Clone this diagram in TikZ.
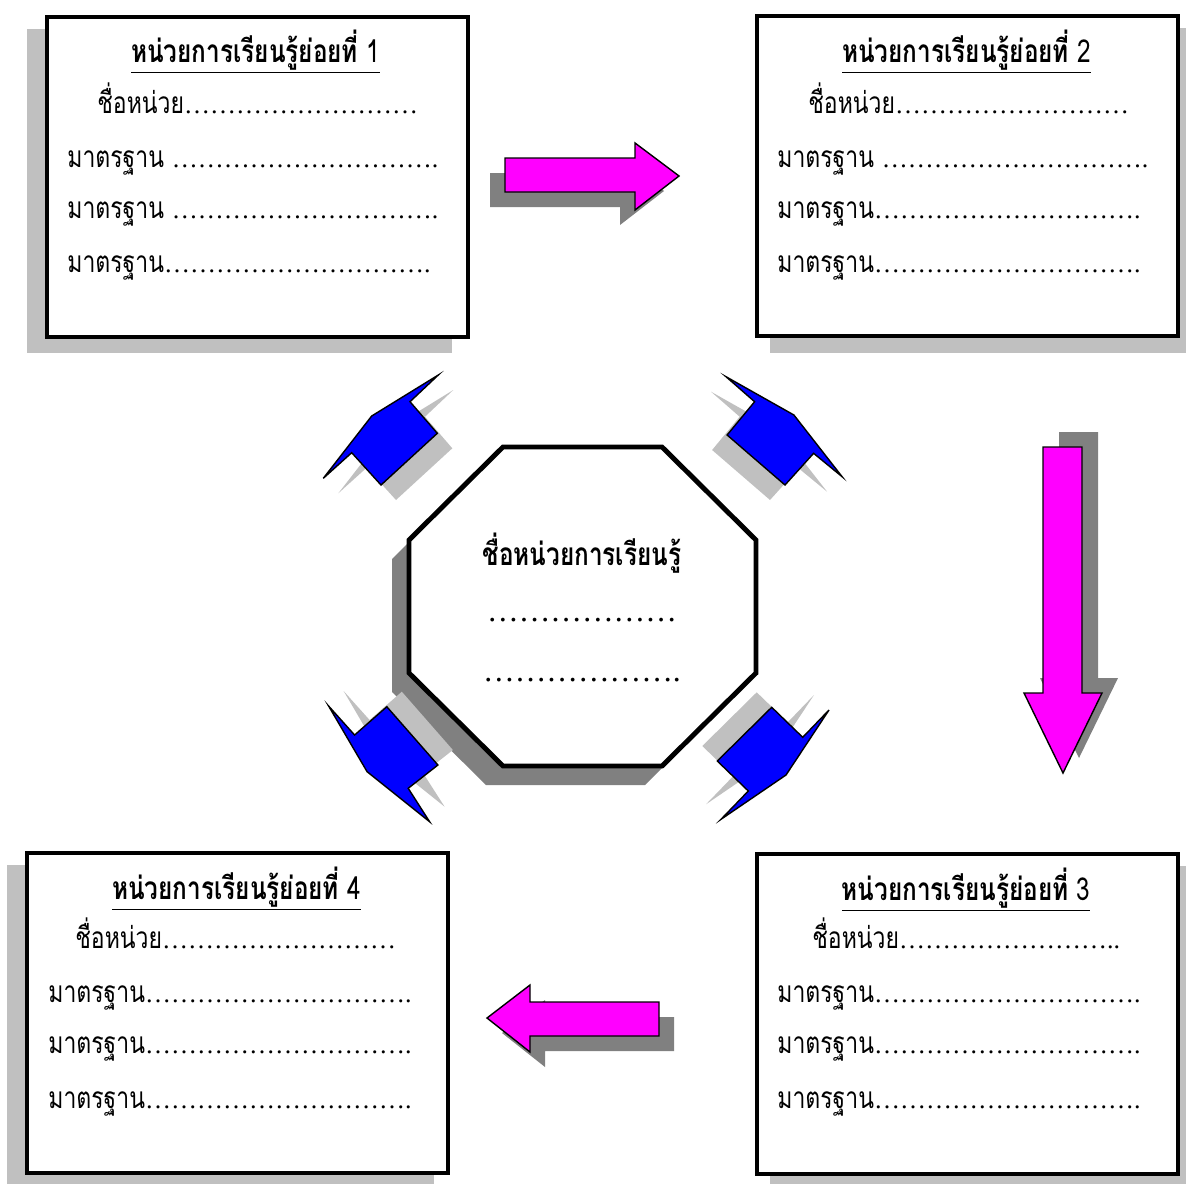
\documentclass[tikz,border=0pt]{standalone}
\usepackage{fontspec}
\newfontfamily\thaifont[Script=Thai, FakeStretch=0.77]{Loma}
\newfontfamily\dotsfamily{Liberation Serif}
\usetikzlibrary{positioning}
\definecolor{shadowlight}{HTML}{C0C0C0}
\definecolor{shadowdark}{HTML}{808080}
\definecolor{unitmagenta}{HTML}{FF00FF}
\definecolor{unitblue}{HTML}{0000FF}
\newcommand{\dotsfont}{\dotsfamily\fontsize{14.8}{16}\selectfont}
\newcommand{\bigdotsfont}{\dotsfamily\fontsize{18}{20}\selectfont}

\begin{document}
\begin{tikzpicture}[
  x=0.02cm, y=-0.02cm,
  every node/.style={inner sep=0pt, font=\thaifont\fontsize{17}{19}\selectfont},
  unitbox/.style={draw, line width=2.3pt, fill=white, minimum width=8.42cm, minimum height=6.4cm, anchor=north west},
  unittitle/.style={anchor=base, font=\thaifont\bfseries\fontsize{18}{20}\selectfont},
  unitline/.style={anchor=base west},
  boxshadow/.style={fill=shadowlight},
  pinkarrow/.style={draw, line width=0.8pt, fill=unitmagenta, line join=miter},
  bluearrow/.style={draw, line width=0.8pt, fill=unitblue, line join=miter}
  ]
	\useasboundingbox (0,0) rectangle (1186,1183);
	\clip (0,0) rectangle (1186,1183);

	% box shadows
	\fill[boxshadow] (27,29) rectangle (452,353);
	\fill[boxshadow] (770,28) rectangle (1197,353);
	\fill[boxshadow] (770,866) rectangle (1196,1189);
	\fill[boxshadow] (7,865) rectangle (434,1190);

	% unit 1
	\node[unitbox] (unit1) at (45,15) {};
	\node[unittitle] (unit1head) at (255.5,62) {\underline{หน่วยการเรียนรู้ย่อยที่\ \mdseries 1}};
	\node[unitline] (unit1name) at (97,113) {ชื่อหน่วย{\dotsfont ………………………}};
	\node[unitline] (unit1std1) at (67,167) {มาตรฐาน {\dotsfont ……………{}…………….}};
	\node[unitline] (unit1std2) at (67,218) {มาตรฐาน {\dotsfont ……………{}…………….}};
	\node[unitline] (unit1std3) at (67,272) {มาตรฐาน{\dotsfont ……………{}…………….}};

	% unit 2
	\node[unitbox] (unit2) at (755,14) {};
	\node[unittitle] (unit2head) at (966.5,62) {\underline{หน่วยการเรียนรู้ย่อยที่\ \mdseries 2}};
	\node[unitline] (unit2name) at (808,113) {ชื่อหน่วย{\dotsfont ………………………}};
	\node[unitline] (unit2std1) at (777,167) {มาตรฐาน {\dotsfont ……………{}…………….}};
	\node[unitline] (unit2std2) at (777,218) {มาตรฐาน{\dotsfont ……………{}…………….}};
	\node[unitline] (unit2std3) at (777,272) {มาตรฐาน{\dotsfont ……………{}…………….}};

	% unit 3
	\node[unitbox] (unit3) at (755,852) {};
	\node[unittitle] (unit3head) at (966,900) {\underline{หน่วยการเรียนรู้ย่อยที่\ \mdseries 3}};
	\node[unitline] (unit3name) at (812,948) {ชื่อหน่วย{\dotsfont ……………………..}};
	\node[unitline] (unit3std1) at (777,1002) {มาตรฐาน{\dotsfont ……………{}…………….}};
	\node[unitline] (unit3std2) at (777,1053) {มาตรฐาน{\dotsfont ……………{}…………….}};
	\node[unitline] (unit3std3) at (777,1108) {มาตรฐาน{\dotsfont ……………{}…………….}};

	% unit 4
	\node[unitbox] (unit4) at (25,851) {};
	\node[unittitle] (unit4head) at (236.5,899) {\underline{หน่วยการเรียนรู้ย่อยที่\ \mdseries 4}};
	\node[unitline] (unit4name) at (75,948) {ชื่อหน่วย{\dotsfont ………………………}};
	\node[unitline] (unit4std1) at (48,1002) {มาตรฐาน{\dotsfont ……………{}…………….}};
	\node[unitline] (unit4std2) at (48,1053) {มาตรฐาน{\dotsfont ……………{}…………….}};
	\node[unitline] (unit4std3) at (48,1108) {มาตรฐาน{\dotsfont ……………{}…………….}};

	% pink arrows with shadows
	\fill[shadowdark,shift={(-15,15)}] (505,158) -- (635,158) -- (635,143) -- (679,176) -- (635,210) -- (635,192) -- (505,192) -- cycle;
	\draw[pinkarrow] (505,158) -- (635,158) -- (635,143) -- (679,176) -- (635,210) -- (635,192) -- (505,192) -- cycle;
	\fill[shadowdark,shift={(16,-15)}] (1043,447) -- (1082,447) -- (1082,693) -- (1102,693) -- (1063,773) -- (1024,693) -- (1043,693) -- cycle;
	\draw[pinkarrow] (1043,447) -- (1082,447) -- (1082,693) -- (1102,693) -- (1063,773) -- (1024,693) -- (1043,693) -- cycle;
	\fill[shadowdark,shift={(15,15)}] (659,1002) -- (530,1002) -- (530,985) -- (487,1018) -- (530,1052) -- (530,1036) -- (659,1036) -- cycle;
	\draw[pinkarrow] (659,1002) -- (530,1002) -- (530,985) -- (487,1018) -- (530,1052) -- (530,1036) -- (659,1036) -- cycle;

	% centre octagon
	\fill[shadowdark,shift={(-17,19)}] (503,447) -- (662,447) -- (756,540) -- (756,673) -- (662,766) -- (503,766) -- (409,673) -- (409,540) -- cycle;
	\draw[line width=2.8pt, fill=white, line join=miter] (503,447) -- (662,447) -- (756,540) -- (756,673) -- (662,766) -- (503,766) -- (409,673) -- (409,540) -- cycle;
	\node[anchor=base, font=\thaifont\bfseries\fontsize{18}{20}\selectfont] (centretitle) at (582,565) {ชื่อหน่วยการเรียนรู้};
	\node[anchor=base] (centredots1) at (582,621) {\bigdotsfont ………………};
	\node[anchor=base] (centredots2) at (582,681) {\bigdotsfont ……………….};

	% blue arrows with shadows
	\fill[shadowlight,shift={(15,15)}] (323.3,478.3) -- (351.7,452.7) -- (381,485) -- (437.3,433.3) -- (410,401.7) -- (438.3,375) -- (371.7,416) -- cycle;
	\draw[bluearrow] (323.3,478.3) -- (351.7,452.7) -- (381,485) -- (437.3,433.3) -- (410,401.7) -- (438.3,375) -- (371.7,416) -- cycle;
	\fill[shadowlight,shift={(-15,15)}] (842.1,476.7) -- (813.6,453.3) -- (785,485) -- (727.1,435) -- (754.6,401.7) -- (726,376.7) -- (793.9,415) -- cycle;
	\draw[bluearrow] (842.1,476.7) -- (813.6,453.3) -- (785,485) -- (727.1,435) -- (754.6,401.7) -- (726,376.7) -- (793.9,415) -- cycle;
	\fill[shadowlight,shift={(15,-15)}] (328.6,706) -- (354.6,735) -- (386.8,706.7) -- (437.9,765) -- (408.2,788.3) -- (429.6,821.7) -- (367.1,771.7) -- cycle;
	\draw[bluearrow] (328.6,706) -- (354.6,735) -- (386.8,706.7) -- (437.9,765) -- (408.2,788.3) -- (429.6,821.7) -- (367.1,771.7) -- cycle;
	\fill[shadowlight,shift={(-15,-15)}] (829,710) -- (802.7,737.3) -- (771.7,707.3) -- (717.3,761) -- (748.3,791) -- (721,819.3) -- (786,775) -- cycle;
	\draw[bluearrow] (829,710) -- (802.7,737.3) -- (771.7,707.3) -- (717.3,761) -- (748.3,791) -- (721,819.3) -- (786,775) -- cycle;

\end{tikzpicture}
\end{document}
